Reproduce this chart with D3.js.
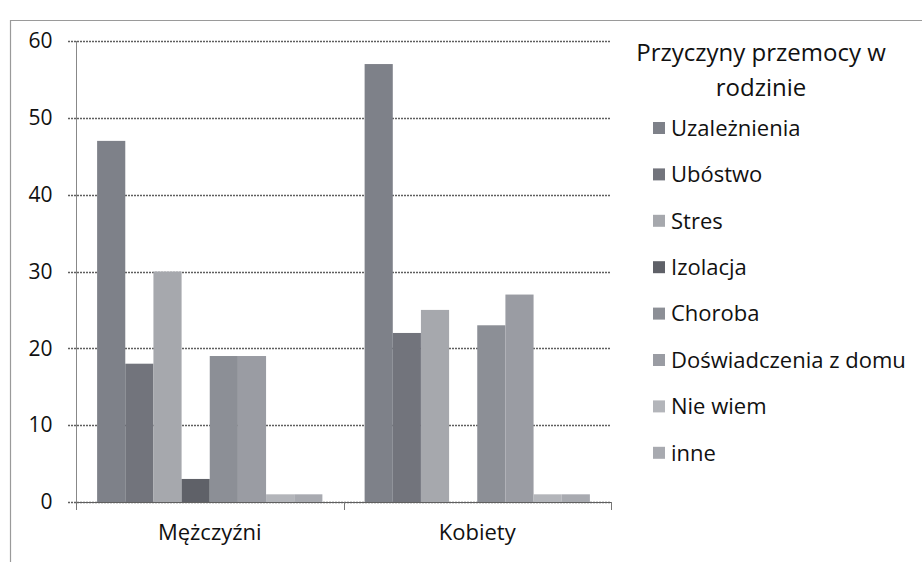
<!DOCTYPE html>
<html>
<head>
<meta charset="utf-8">
<script src="https://cdn.jsdelivr.net/npm/d3@7"></script>
<style>
  body { margin: 0; background: #fff; }
  text { font-family: "Open Sans", sans-serif; fill: #111; }
</style>
</head>
<body>
<svg class="chart" width="922" height="562"></svg>
<script>
// data
const categories = ["Mężczyźni", "Kobiety"]
const series = ["Uzależnienia", "Ubóstwo", "Stres", "Izolacja", "Choroba",
                "Doświadczenia z domu", "Nie wiem", "inne"]
const menValues   = [47, 18, 30, 3, 19, 19, 1, 1]
const womenValues = [57, 22, 25, 0, 23, 27, 1, 1]
const yTicks = [0, 10, 20, 30, 40, 50, 60]
const legendTitle = ["Przyczyny przemocy w", "rodzinie"]

const greys = ["#7e8189", "#72747c", "#a6a8ad", "#5f6168",
               "#8c8f96", "#9a9ca3", "#b3b5ba", "#a8aab0"]

const svg = d3.select(".chart")

// scan frame
svg.append("path")
  .attr("d", "M10.5,562 V20.5 H922")
  .attr("fill", "none")
  .attr("stroke", "#9a9a9a")
  .attr("stroke-width", 1.2)

const plot = { left: 76, right: 611, top: 41, bottom: 502 }

const x0 = d3.scaleBand()
  .domain(categories)
  .range([plot.left, plot.right])

const x1 = d3.scaleBand()
  .domain(series)
  .range([0, x0.bandwidth()])
  .paddingInner(0)
  .paddingOuter(0.75)

const y = d3.scaleLinear()
  .domain([0, 60])
  .range([plot.bottom, plot.top])

// gridlines with the little tick on the left
svg.append("g")
  .selectAll("line")
  .data(yTicks)
  .enter()
  .append("line")
    .attr("x1", plot.left - 8)
    .attr("x2", plot.right)
    .attr("y1", d => Math.round(y(d)) + 0.5)
    .attr("y2", d => Math.round(y(d)) + 0.5)
    .attr("stroke", "#5f5f5f")
    .attr("stroke-width", 1.4)
    .attr("stroke-dasharray", "2,1")

// y axis
const yAxis = d3.axisLeft(y).tickValues(yTicks).tickSize(0).tickPadding(24)
const gy = svg.append("g")
  .attr("transform", "translate(" + (plot.left + 0.5) + ",0)")
  .call(yAxis)
gy.select(".domain").attr("stroke", "#888").attr("d", "M0," + plot.top + "V" + (plot.bottom + 8))
gy.selectAll("text")
  .style("font-family", '"Open Sans", sans-serif')
  .style("font-size", "21px")
  .attr("fill", "#111")

// bars
const data = [menValues, womenValues]
const groups = svg.append("g")
  .selectAll("g")
  .data(categories)
  .enter()
  .append("g")
    .attr("transform", d => "translate(" + x0(d) + ",0)")

groups.selectAll("rect")
  .data((c, i) => series.map((s, j) => ({ key: s, value: data[i][j], idx: j })))
  .enter()
  .append("rect")
    .attr("x", d => x1(d.key))
    .attr("width", x1.bandwidth())
    .attr("y", d => y(d.value))
    .attr("height", d => y(0) - y(d.value))
    .attr("fill", d => greys[d.idx])

// x axis
const xAxis = d3.axisBottom(x0).tickSize(0).tickPadding(22)
const gx = svg.append("g")
  .attr("transform", "translate(0," + (plot.bottom + 0.5) + ")")
  .call(xAxis)
gx.select(".domain").attr("stroke", "#5f5f5f").attr("stroke-dasharray", "2,1").attr("d", "M" + plot.left + ",0H" + plot.right)
gx.selectAll("text")
  .style("font-family", '"Open Sans", sans-serif')
  .style("font-size", "22px")
  .attr("fill", "#111")

// category boundary ticks
svg.append("g")
  .selectAll("line")
  .data([plot.left, x0(categories[1]), plot.right])
  .enter()
  .append("line")
    .attr("x1", d => Math.round(d) + 0.5)
    .attr("x2", d => Math.round(d) + 0.5)
    .attr("y1", plot.bottom)
    .attr("y2", plot.bottom + 8)
    .attr("stroke", "#777")

// legend
const legend = svg.append("g")
legend.selectAll(".title")
  .data(legendTitle)
  .enter()
  .append("text")
    .attr("class", "title")
    .attr("x", 761)
    .attr("y", (d, i) => 53 + i * 35)
    .attr("dy", "0.35em")
    .attr("text-anchor", "middle")
    .style("font-size", "24px")
    .text(d => d)

const items = legend.selectAll(".item")
  .data(series)
  .enter()
  .append("g")
    .attr("transform", (d, i) => "translate(653," + (128 + i * 46.4) + ")")

items.append("rect")
  .attr("x", 0)
  .attr("y", -6)
  .attr("width", 12)
  .attr("height", 12)
  .attr("fill", (d, i) => greys[i])

items.append("text")
  .attr("x", 18)
  .attr("dy", "0.35em")
  .style("font-size", "22px")
  .text(d => d)
</script>
</body>
</html>
